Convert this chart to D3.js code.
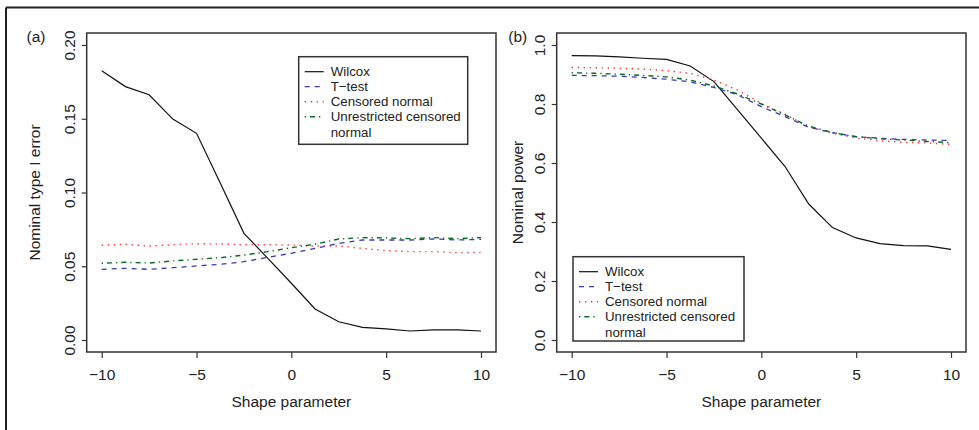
<!DOCTYPE html>
<html><head><meta charset="utf-8">
<script src="https://cdn.jsdelivr.net/npm/d3@7"></script>
<style>body{margin:0;background:#fff}svg{display:block}text{font-family:"Liberation Sans",Arial,sans-serif;fill:#222}</style>
</head><body><svg id="c" width="979" height="430"></svg>
<script>
const shape = [-10,-8.75,-7.5,-6.25,-5,-3.75,-2.5,-1.25,0,1.25,2.5,3.75,5,6.25,7.5,8.75,10];
const seriesNames = ["Wilcox","T\u2212test","Censored normal","Unrestricted censored normal"];
// Panel (a): nominal type I error
const errWilcox = [0.1826,0.1718,0.1663,0.1498,0.1401,0.1065,0.0723,0.0555,0.0385,0.021,0.0124,0.0086,0.0075,0.0061,0.0068,0.0068,0.0061];
const errTtest  = [0.0479,0.0486,0.0479,0.049,0.0502,0.0513,0.0531,0.056,0.0588,0.0621,0.0655,0.0678,0.0678,0.0678,0.0685,0.0678,0.0682];
const errCens   = [0.0642,0.0649,0.0637,0.0646,0.0653,0.0651,0.0646,0.0646,0.0644,0.0637,0.0637,0.0621,0.0606,0.0599,0.0599,0.0592,0.0594];
const errUnres  = [0.052,0.0527,0.0522,0.0536,0.0547,0.0558,0.0576,0.0599,0.0626,0.0649,0.0685,0.0694,0.0692,0.0687,0.0694,0.0687,0.0694];
// Panel (b): nominal power
const powWilcox = [0.964,0.963,0.960,0.955,0.951,0.929,0.876,0.78,0.684,0.588,0.461,0.381,0.346,0.327,0.320,0.319,0.307];
const powTtest  = [0.897,0.896,0.894,0.890,0.884,0.875,0.856,0.831,0.791,0.757,0.721,0.703,0.689,0.684,0.680,0.678,0.676];
const powCens   = [0.924,0.923,0.921,0.918,0.913,0.904,0.881,0.847,0.802,0.765,0.723,0.701,0.684,0.676,0.670,0.668,0.663];
const powUnres  = [0.906,0.904,0.901,0.897,0.892,0.881,0.861,0.834,0.800,0.763,0.725,0.703,0.689,0.682,0.678,0.673,0.669];
const xTicks = [-10,-5,0,5,10];
const errTicks = [0,0.05,0.10,0.15,0.20];
const powTicks = [0,0.2,0.4,0.6,0.8,1.0];

const styles = [
  {color:"#111", dash:null, w:1.2},
  {color:"#3a3ab0", dash:"5,5", w:1.3},
  {color:"#ff2a2a", dash:"1.3,4.7", w:1.4},
  {color:"#0a6a2a", dash:"1.3,4,5,4", w:1.4}
];

const svg = d3.select("#c");
// outer frame (top and left edges)
svg.append("path").attr("d","M6,7.5H979M6,7.5V430").attr("fill","none").attr("stroke","#222").attr("stroke-width",2);

function panel(o){
  const g = svg.append("g");
  const x = d3.scaleLinear().domain([-10,10]).range([o.xl, o.xr]);
  const y = d3.scaleLinear().domain(o.ydom).range([340,45]);
  o.series.forEach((s,i)=>{
    const st = styles[i];
    g.append("path").datum(s)
      .attr("d", d3.line().x((d,j)=>x(shape[j])).y(d=>y(d)))
      .attr("fill","none").attr("stroke",st.color).attr("stroke-width",st.w)
      .attr("stroke-dasharray",st.dash);
  });
  g.append("rect").attr("x",o.bx0).attr("y",33).attr("width",o.bx1-o.bx0).attr("height",352-33)
    .attr("fill","none").attr("stroke","#333").attr("stroke-width",1.5);
  // x axis
  const xa = g.append("g").attr("transform","translate(0,352)")
    .call(d3.axisBottom(x).tickValues(xTicks).tickSize(6).tickFormat(d=>d<0?"\u2212"+Math.abs(d):d));
  xa.select(".domain").remove();
  xa.selectAll("line").attr("stroke","#333").attr("stroke-width",1.2);
  xa.selectAll("text").attr("y",27.5).attr("dy",null).attr("font-size","15.5px")
    .style("font-family","'Liberation Sans',Arial,sans-serif").attr("fill","#222");
  // y axis
  const ya = g.append("g").attr("transform",`translate(${o.bx0},0)`)
    .call(d3.axisLeft(y).tickValues(o.yTicks).tickSize(5).tickFormat(o.yfmt));
  ya.select(".domain").remove();
  ya.selectAll("line").attr("stroke","#333").attr("stroke-width",1.2);
  ya.selectAll(".tick text").attr("x",null).attr("dy",null).attr("y",null)
    .attr("font-size","15.5px").attr("text-anchor","middle")
    .attr("transform","translate(-11.7,0) rotate(-90)")
    .style("font-family","'Liberation Sans',Arial,sans-serif").attr("fill","#222");
  // titles
  g.append("text").attr("x",(o.xl+o.xr)/2).attr("y",406.5).attr("text-anchor","middle").attr("font-size","15.5px").text("Shape parameter");
  g.append("text").attr("transform",`translate(${o.ttx},192.5) rotate(-90)`).attr("text-anchor","middle").attr("font-size","15.5px").text(o.ytitle);
  g.append("text").attr("x",o.labx).attr("y",41.5).attr("font-size","15.5px").text(o.lab);
  // legend
  const L = o.leg;
  g.append("rect").attr("x",L.x0).attr("y",L.y0).attr("width",L.x1-L.x0).attr("height",L.y1-L.y0)
    .attr("fill","#fff").attr("stroke","#333").attr("stroke-width",1.5);
  seriesNames.forEach((n,i)=>{
    const cy = L.y0 + 15 + i*15;
    const st = styles[i];
    g.append("line").attr("x1",L.x0+6).attr("x2",L.x0+25).attr("y1",cy).attr("y2",cy)
      .attr("stroke",st.color).attr("stroke-width",st.w).attr("stroke-dasharray",st.dash);
    if(i<3){
      g.append("text").attr("x",L.x0+32).attr("y",cy+4.6).attr("font-size","13.3px").text(n);
    } else {
      g.append("text").attr("x",L.x0+32).attr("y",cy+4.6).attr("font-size","13.3px").text("Unrestricted censored");
      g.append("text").attr("x",L.x0+32).attr("y",cy+20.2).attr("font-size","13.3px").text("normal");
    }
  });
}

panel({xl:101.7, xr:481, bx0:86.7, bx1:496, ydom:[0,0.2], yTicks:errTicks, yfmt:d3.format(".2f"),
  ttx:39.5, ytitle:"Nominal type I error", labx:26.5, lab:"(a)",
  series:[errWilcox,errTtest,errCens,errUnres], leg:{x0:298.7,x1:467.7,y0:56.7,y1:144.3}});
panel({xl:571.7, xr:951, bx0:556.7, bx1:966, ydom:[0,1], yTicks:powTicks, yfmt:d3.format(".1f"),
  ttx:523, ytitle:"Nominal power", labx:508.3, lab:"(b)",
  series:[powWilcox,powTtest,powCens,powUnres], leg:{x0:573,x1:744,y0:256.7,y1:341}});
</script></body></html>
